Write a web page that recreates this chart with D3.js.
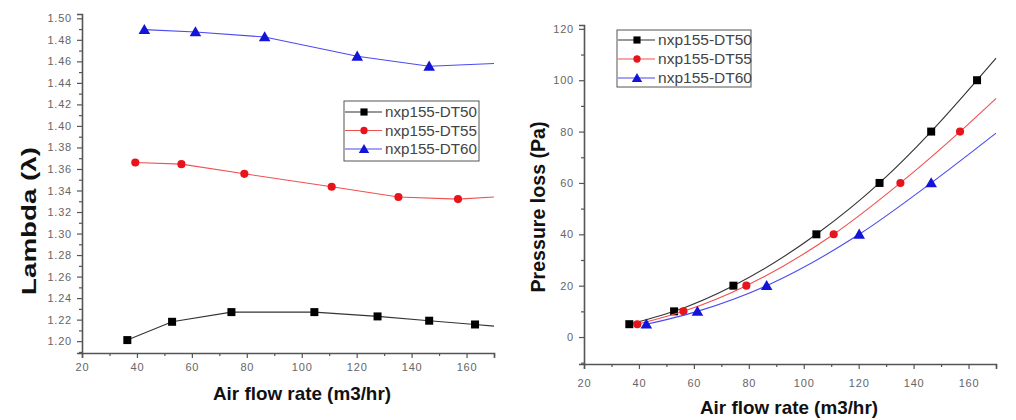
<!DOCTYPE html>
<html><head><meta charset="utf-8">
<script src="https://cdn.jsdelivr.net/npm/d3@7"></script>
<style>
body{margin:0;background:#fff;}
svg{display:block;font-family:Arial,"Liberation Sans",sans-serif;}
</style></head>
<body><svg id="c" width="1016" height="420"></svg>
<script>
// ---- data ----
const seriesNames = ["nxp155-DT50", "nxp155-DT55", "nxp155-DT60"];
const flowDT50 = [36.5, 52.8, 74.4, 104.6, 127.6, 146.4, 163.1];
const flowDT55 = [39.4, 56.2, 79.1, 110.9, 135.2, 156.9];
const flowDT60 = [42.7, 61.3, 86.5, 120.2, 146.4];
const lambdaDT50 = [1.201, 1.218, 1.227, 1.227, 1.223, 1.219, 1.2155];
const lambdaDT55 = [1.366, 1.3645, 1.3555, 1.3435, 1.334, 1.332];
const lambdaDT60 = [1.4895, 1.4873, 1.4826, 1.4647, 1.4554];
const lambdaLineEnd = [1.214, 1.334, 1.458];   // where each line meets the right edge (x = 170)
const pressureDT50 = [5, 10, 20, 40, 60, 80, 100];
const pressureDT55 = [5, 10, 20, 40, 60, 80];
const pressureDT60 = [5, 10, 20, 40, 60];
const pressureLineEnd = [108.6, 92.9, 79.4];   // fitted curves at x = 170
const xTicks = [20, 40, 60, 80, 100, 120, 140, 160];
const lambdaTicks = [1.20,1.22,1.24,1.26,1.28,1.30,1.32,1.34,1.36,1.38,1.40,1.42,1.44,1.46,1.48,1.50];
const pressureTicks = [0, 20, 40, 60, 80, 100, 120];

const colors = ["#000000", "#e8141c", "#1414d8"];
const lineColors = ["#333333", "#f05050", "#4a4af0"];
const shapes = [d3.symbolSquare, d3.symbolCircle, d3.symbolTriangle];
const symSizes = [64, 52, 58];

const svg = d3.select("#c");

function panel(cfg){
  const g = svg.append("g");
  const x = d3.scaleLinear().domain([20,170]).range(cfg.xr);
  const y = d3.scaleLinear().domain(cfg.yd).range(cfg.yr);
  const axisCol = "#555";
  const xMinor = d3.range(30,171,20);
  const yMinor = cfg.yMinor;
  const xa = g.append("g").attr("transform",`translate(0,${cfg.yr[0]})`)
    .call(d3.axisBottom(x).tickValues(xTicks).tickSize(5).tickFormat(d3.format("d")));
  g.append("g").attr("transform",`translate(0,${cfg.yr[0]})`)
    .call(d3.axisBottom(x).tickValues(xMinor).tickSize(3).tickFormat(""))
    .call(s=>s.select(".domain").remove());
  const ya = g.append("g").attr("transform",`translate(${cfg.xr[0]},0)`)
    .call(d3.axisLeft(y).tickValues(cfg.yTicks).tickSize(5).tickFormat(cfg.fmt));
  g.append("g").attr("transform",`translate(${cfg.xr[0]},0)`)
    .call(d3.axisLeft(y).tickValues(yMinor).tickSize(3).tickFormat(""))
    .call(s=>s.select(".domain").remove());
  g.selectAll(".domain").attr("stroke",axisCol).attr("stroke-width",1.6);
  g.selectAll(".tick line").attr("stroke",axisCol).attr("stroke-width",1.2);
  g.selectAll(".tick text").attr("fill","#666").style("font-size","11px").style("letter-spacing","0.8px");
  xa.selectAll(".tick text").attr("dy", cfg.xdy);
  ya.selectAll(".tick text").attr("dx","-2");

  cfg.series.forEach((s,i)=>{
    const pts = s.xs.map((v,j)=>[v, s.ys[j]]);
    const linePts = pts.concat([[170, cfg.ends[i]]]);
    g.append("path").datum(linePts)
      .attr("fill","none").attr("stroke",lineColors[i]).attr("stroke-width",1.1)
      .attr("d", d3.line().x(d=>x(d[0])).y(d=>y(d[1])).curve(cfg.curve));
    g.selectAll(null).data(pts).enter().append("path")
      .attr("transform",d=>`translate(${x(d[0])},${y(d[1]) + (i===2?1:0)})`)
      .attr("d", d3.symbol().type(shapes[i]).size(symSizes[i]))
      .attr("fill",colors[i]);
  });

  // legend
  const L = cfg.legend;
  const lg = g.append("g");
  lg.append("rect").attr("x",L.x).attr("y",L.y).attr("width",L.w).attr("height",L.h)
    .attr("fill","#fff").attr("stroke","#555").attr("stroke-width",1);
  seriesNames.forEach((n,i)=>{
    const yy = L.y + L.row0 + i*L.dy;
    lg.append("line").attr("x1",L.x+1).attr("x2",L.x+38).attr("y1",yy).attr("y2",yy)
      .attr("stroke",lineColors[i]).attr("stroke-width",1.2);
    lg.append("path").attr("transform",`translate(${L.x+20},${yy+(i===2?1:0)})`)
      .attr("d", d3.symbol().type(shapes[i]).size(symSizes[i]*0.8)).attr("fill",colors[i]);
    lg.append("text").attr("x",L.x+41).attr("y",yy).attr("dy","0.36em")
      .attr("fill","#444").style("font-size","14px")
      .attr("textLength",L.tw).attr("lengthAdjust","spacingAndGlyphs").text(n);
  });

  // axis titles
  g.append("text").attr("x",cfg.xt[0]).attr("y",cfg.xt[1]).attr("text-anchor","middle")
    .attr("dy","0.35em").style("font-size","19px").style("font-weight","bold").attr("fill","#111")
    .attr("textLength",cfg.xt[2]).attr("lengthAdjust","spacingAndGlyphs")
    .text("Air flow rate (m3/hr)");
  g.append("text").attr("transform",`translate(${cfg.yt[0]},${cfg.yt[1]}) rotate(-90)`)
    .attr("text-anchor","middle").attr("dy","0.35em")
    .style("font-size","20px").style("font-weight","bold").attr("fill","#111")
    .attr("textLength",cfg.yt[2]).attr("lengthAdjust","spacingAndGlyphs")
    .text(cfg.ytitle);
}

panel({
  xr:[82,494], yd:[1.189,1.504], yr:[353,14],
  yTicks: lambdaTicks, yMinor: d3.range(1.19,1.50,0.02), fmt:d3.format(".2f"),
  xdy:"0.95em",
  series:[{xs:flowDT50,ys:lambdaDT50},{xs:flowDT55,ys:lambdaDT55},{xs:flowDT60,ys:lambdaDT60}],
  ends: lambdaLineEnd, curve: d3.curveLinear,
  legend:{x:344,y:101,w:135,h:60,row0:11,dy:18.5,tw:92},
  xt:[302,393,178], yt:[29,221,148], ytitle:"Lambda (λ)"
});

panel({
  xr:[584,996], yd:[-10.5,121.5], yr:[364,25],
  yTicks: pressureTicks, yMinor: d3.range(-10,121,20), fmt:d3.format("d"),
  xdy:"1.4em",
  series:[{xs:flowDT50,ys:pressureDT50},{xs:flowDT55,ys:pressureDT55},{xs:flowDT60,ys:pressureDT60}],
  ends: pressureLineEnd, curve: d3.curveMonotoneX,
  legend:{x:617,y:30,w:134,h:57,row0:10,dy:19,tw:94},
  xt:[789,407,178], yt:[538,207,171], ytitle:"Pressure loss (Pa)"
});
</script></body></html>
